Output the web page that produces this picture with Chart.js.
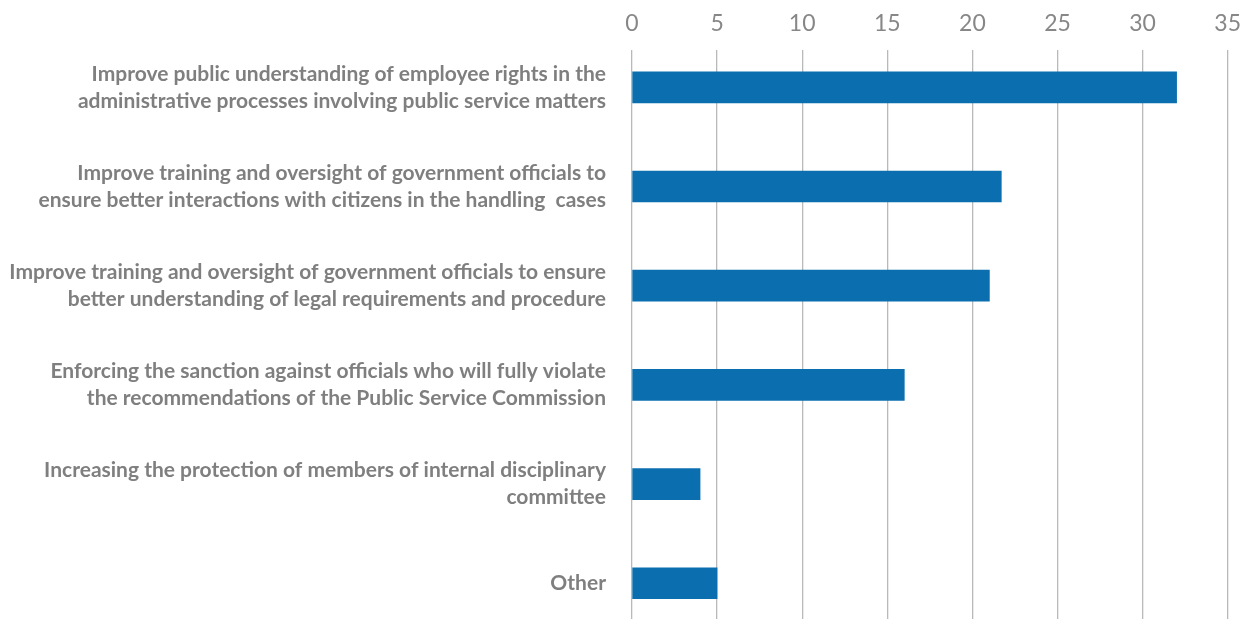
<!DOCTYPE html>
<html>
<head>
<meta charset="utf-8">
<script src="https://cdn.jsdelivr.net/npm/chart.js@4/dist/chart.umd.min.js"></script>
<style>
    body { margin: 0; background: #fff; }
    #wrap { width: 1253px; height: 619px; position: relative; }
</style>
</head>
<body>
<div id="wrap"><canvas id="improvementsChart"></canvas></div>
<script>
// Suggested improvements (counts)
const categories = [
    ['Improve public understanding of employee rights in the', 'administrative processes involving public service matters'],
    ['Improve training and oversight of government officials to', 'ensure better interactions with citizens in the handling  cases'],
    ['Improve training and oversight of government officials to ensure', 'better understanding of legal requirements and procedure'],
    ['Enforcing the sanction against officials who will fully violate', 'the recommendations of the Public Service Commission'],
    ['Increasing the protection of members of internal disciplinary', 'committee'],
    ['Other']
];
const counts = [32, 21.7, 21, 16, 4, 5];
const xTicks = [0, 5, 10, 15, 20, 25, 30, 35];

const gray = '#7f7f7f';

const ctx = document.getElementById('improvementsChart');
new Chart(ctx, {
    type: 'bar',
    data: {
        datasets: [{
            data: counts.map((v, i) => ({ x: v, y: i })),
            backgroundColor: '#0b6faf',
            borderWidth: 0,
            barThickness: 31
        }]
    },
    options: {
        indexAxis: 'y',
        responsive: true,
        maintainAspectRatio: false,
        animation: false,
        layout: {
            padding: { top: -2, right: 24, bottom: 0, left: 0 }
        },
        scales: {
            x: {
                type: 'linear',
                position: 'top',
                min: xTicks[0],
                max: xTicks[xTicks.length - 1],
                afterBuildTicks: (scale) => {
                    scale.ticks = xTicks.map(v => ({ value: v }));
                },
                grid: {
                    color: '#b9b9b9',
                    lineWidth: 1.3,
                    drawTicks: false
                },
                border: { display: false },
                ticks: {
                    color: '#878787',
                    padding: 12,
                    font: { family: 'Lato', size: 23, weight: 'normal' }
                }
            },
            y: {
                type: 'linear',
                offset: false,
                reverse: true,
                min: -0.38,
                max: 5.36,
                afterFit: (scale) => {
                    scale.width = 632;
                    scale.paddingTop = 0;
                    scale.paddingBottom = 0;
                },
                grid: { display: false, drawTicks: false },
                border: { display: false },
                ticks: {
                    stepSize: 1,
                    includeBounds: false,
                    autoSkip: false,
                    padding: 26,
                    color: gray,
                    font: { family: 'Lato', size: 21, weight: 'bold', lineHeight: 1.28 },
                    callback: (v) => categories[v] ?? ''
                }
            }
        },
        plugins: {
            legend: { display: false },
            tooltip: { enabled: false }
        }
    }
});
</script>
</body>
</html>
